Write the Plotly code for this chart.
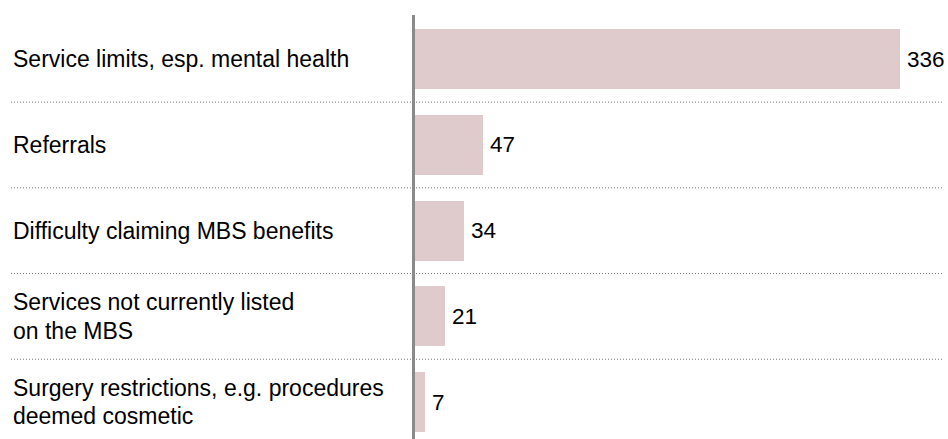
import plotly.graph_objects as go

categories = [
    "Service limits, esp. mental health",
    "Referrals",
    "Difficulty claiming MBS benefits",
    "Services not currently listed<br>on the MBS",
    "Surgery restrictions, e.g. procedures<br>deemed cosmetic",
]
values = [336, 47, 34, 21, 7]

BAR_COLOR = "#dfcbcb"
AXIS_COLOR = "#8a8a8a"
SEP_COLOR = "#7a7a7a"
FONT = "Liberation Sans, Arial, sans-serif"
FS_CAT = 23
FS_VAL = 22.5
LINE_H = 28.3

idx = list(range(len(categories)))

fig = go.Figure()
fig.add_trace(go.Bar(
    x=values,
    y=idx,
    orientation="h",
    marker=dict(color=BAR_COLOR, line=dict(width=0)),
    width=0.7,
    hoverinfo="skip",
))

annotations = []
for i, (c, v) in enumerate(zip(categories, values)):
    lines = c.split("<br>")
    n = len(lines)
    for j, ln in enumerate(lines):
        annotations.append(dict(
            x=0, xref="paper", y=i, yref="y",
            text=ln, showarrow=False, xanchor="left", yanchor="middle",
            yshift=((n - 1) / 2 - j) * LINE_H,
            align="left", font=dict(family=FONT, size=FS_CAT, color="#000"),
        ))
    annotations.append(dict(
        x=v, xref="x", y=i, yref="y",
        text=str(v), showarrow=False, xanchor="left", yanchor="middle",
        xshift=5, font=dict(family=FONT, size=FS_VAL, color="#000"),
    ))

shapes = []
for k in range(len(categories) - 1):
    shapes.append(dict(
        type="line", xref="paper", yref="y",
        x0=0, x1=1, y0=k + 0.5, y1=k + 0.5,
        line=dict(color=SEP_COLOR, width=1, dash="1px,2px"),
        layer="below",
    ))

fig.update_layout(
    width=948, height=439,
    margin=dict(l=11, r=5, t=15, b=0),
    paper_bgcolor="white", plot_bgcolor="white",
    showlegend=False,
    bargap=0,
    annotations=annotations,
    shapes=shapes,
    xaxis=dict(
        domain=[(415 - 11) / 932, 1],
        range=[0, 365.8],
        showgrid=False, zeroline=False, showticklabels=False,
        showline=False, ticks="",
    ),
    yaxis=dict(
        range=[4.431, -0.517],
        showgrid=False, zeroline=False, showticklabels=False,
        showline=True, linecolor=AXIS_COLOR, linewidth=3, ticks="",
    ),
)

fig.write_html(
    "out.html",
    config={"displayModeBar": False, "staticPlot": True},
    post_script="document.body.style.margin='0';document.body.style.overflow='hidden';",
)
